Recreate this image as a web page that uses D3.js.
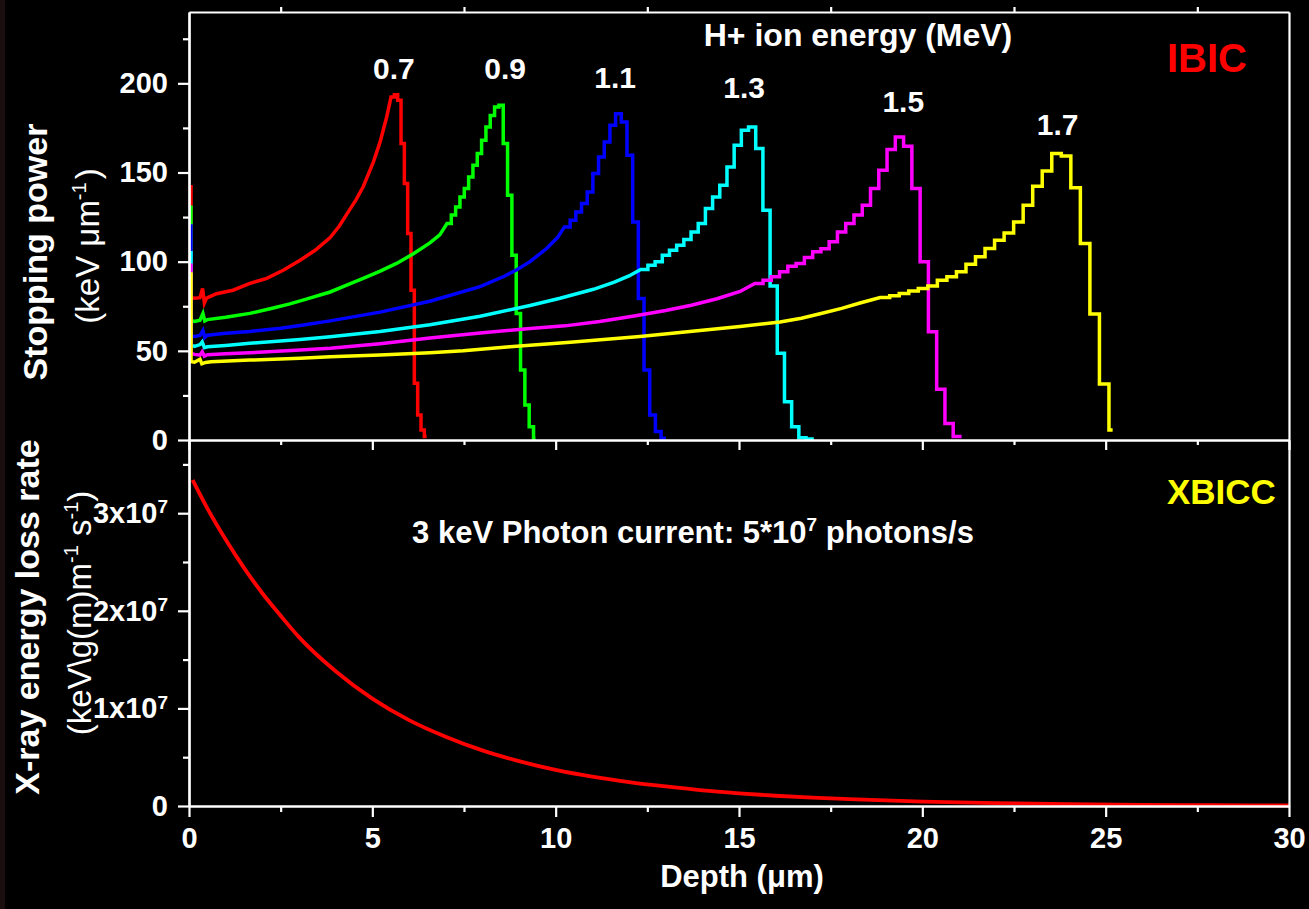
<!DOCTYPE html>
<html><head><meta charset="utf-8">
<script src="https://cdn.jsdelivr.net/npm/d3@7"></script>
<style>html,body{margin:0;padding:0;background:#000;}svg{display:block;}</style>
</head><body>
<svg id="chart" width="1309" height="909"></svg>
<script>
// ---------------- DATA ----------------
const depthTicks = [0, 5, 10, 15, 20, 25, 30];
const depthMinor = [2.5, 7.5, 12.5, 17.5, 22.5, 27.5];
const spTicks = [0, 50, 100, 150, 200];
const spMinor = [25, 75, 125, 175, 225];
const xrayTicks = [0, 1e7, 2e7, 3e7];
const xrayTickLabels = ["0", "1x10^7", "2x10^7", "3x10^7"];
const xrayMinor = [0.5e7, 1.5e7, 2.5e7, 3.5e7];

const ionEnergies = ["0.7", "0.9", "1.1", "1.3", "1.5", "1.7"];
const ionColors = ["#ff0000", "#00ff00", "#0000ff", "#00ffff", "#ff00ff", "#ffff00"];
// label anchor in data coordinates (depth, stopping power)
const labelDepth = [5.59, 8.62, 11.62, 15.14, 19.48, 23.69];
const labelValue = [202.6, 202.6, 197.3, 191.6, 184.1, 171.1];

// slowly varying part of each stopping-power curve: [depth (um), keV/um]
const sp07Smooth = [[0.055,143],[0.055,80],[0.15,79.5],[0.3,79.8],[0.37,85],[0.42,76.8],[0.48,79.6],[0.75,82],[1.2,84],[1.66,87.8],[2.12,90.6],[2.57,95.2],[3.03,100.8],[3.45,106.5],[3.85,113.5],[4.1,120],[4.3,126.5],[4.55,134.5],[4.75,142],[5.03,156],[5.21,167],[5.39,181]];
const sp09Smooth = [[0.055,131.5],[0.055,67],[0.15,66.5],[0.3,67.2],[0.38,71],[0.43,66.8],[0.5,67.5],[1.0,68.8],[1.66,71],[2.3,74],[2.75,76.3],[3.2,79],[3.85,83],[4.3,86.8],[4.75,90.6],[5.2,94.6],[5.66,99],[6.12,104.4],[6.57,110.5],[6.84,115]];
const sp11Smooth = [[0.055,121],[0.055,58.4],[0.15,58],[0.3,58.6],[0.38,61.5],[0.43,57.5],[0.5,58.8],[1.0,59.8],[1.66,60.9],[2.5,62.7],[3.03,64.2],[3.85,66.8],[5.21,71.7],[6.57,77.8],[7.94,86],[8.6,91.8],[8.94,95.5],[9.3,100],[9.76,107.5],[10.05,113.5]];
const sp13Smooth = [[0.055,106],[0.055,53.2],[0.15,52.5],[0.3,53.5],[0.36,55],[0.42,51.8],[0.5,52.3],[1.0,53],[1.66,54.2],[3.03,56.4],[3.85,57.9],[5.21,60.9],[6.57,64.6],[7.94,69.4],[9.3,75.4],[10.12,79.5],[11.03,84.5],[11.6,88.5],[12.0,92]];
const sp15Smooth = [[0.055,99],[0.055,48.6],[0.15,48],[0.3,47.6],[0.36,49.5],[0.42,47],[0.5,47.8],[1.0,48.3],[1.66,48.9],[3.03,50.4],[3.85,51.4],[5.21,54],[6.57,57.2],[7.94,60],[9.3,62.5],[10.25,64],[11.2,66.4],[12.1,69.4],[13.0,72.6],[13.7,75.6],[14.4,79.2],[15.03,83.3]];
const sp17Smooth = [[0.055,94],[0.055,44],[0.15,43.6],[0.3,45.3],[0.35,42.7],[0.45,43.5],[0.6,43.9],[1.66,44.8],[3.03,45.8],[3.85,46.7],[5.21,47.6],[6.57,48.9],[7.48,50],[8.75,52.3],[10.4,54.8],[12.3,58],[13.66,60.8],[15.03,63.6],[16.12,66.2],[16.7,68.3],[17.21,70.8],[17.8,73.8],[18.3,76.8]];

// histogram bins near the Bragg peak (keV/um)
const sp07Bins = [192.3,193.6,190.5,166.2,143.8,115.8,84,31.8,14,5.6,1.9];
const sp09Bins = [121.4,126.1,130.7,136.3,141,147.5,154.1,160.6,168.1,175.5,182,186.7,187.7,166.2,137.3,103.6,71,39.2,19.6,7.5,1];
const sp11Bins = [119.5,123.2,127.9,132.6,139.1,149.4,158.7,167.1,176.5,183,178.3,159.7,122.3,79.4,39.2,14,4.7,1];
const sp13Bins = [95.6,98,99.9,103.6,106.4,109.2,112.4,116.7,121.4,129.8,136.3,142.9,153.1,165.3,173.7,175.5,163.4,128.9,86.3,48.6,21.5,7.5,1.2,0.6];
const sp15Bins = [87.8,89.6,91.5,94.3,97.5,99,102.3,105.5,107.2,111.1,116.7,121.4,126.1,131.7,141,151.3,162.9,169.9,164.7,141,99.9,60.7,28.4,9.3,1.9];
const sp17Bins = [79.9,80.9,82.2,83.5,85,86.3,89.6,91.5,94.3,98.6,102.7,107.4,112.0,116.1,122.3,131.7,142.3,150.9,160.6,159.3,141.4,110.2,70.6,31.4,5.6];
const binStarts = [5.51, 7.036, 10.24, 12.32, 15.43, 18.85];
const binWidths = [0.0908, 0.118, 0.155, 0.196, 0.2255, 0.26];
const rangeEnds = [6.48, 9.45, 13.01, 17.04, 21.07, 25.19];

// X-ray energy loss rate (bottom panel)
const xrayDepth = [0.1,0.5,1,1.5,2,2.5,3,4,5,6,7,8,9,10,11,12,13,14,15,16,17,18,20,22,24,26,28,30];
const xrayRate = [3.34e7,3.05e7,2.73e7,2.44e7,2.18e7,1.95e7,1.73e7,1.38e7,1.10e7,0.88e7,0.71e7,0.57e7,0.46e7,0.37e7,0.30e7,0.245e7,0.20e7,0.16e7,0.13e7,0.105e7,0.085e7,0.07e7,0.045e7,0.03e7,0.02e7,0.012e7,0.008e7,0.005e7];

// ---------------- DRAW ----------------
const FONT = "'Liberation Sans', Arial, Helvetica, sans-serif";
const svg = d3.select("#chart");
svg.append("rect").attr("width", 1309).attr("height", 909).attr("fill", "#000");
svg.append("rect").attr("width", 5).attr("height", 909).attr("fill", "#1b0e0e");

const M = {left: 189, right: 1289, top: 12, mid: 440, bottom: 806};
const x = d3.scaleLinear().domain([0, 30]).range([M.left, M.right]);
const yTop = d3.scaleLinear().domain([0, 240]).range([M.mid, M.top]);
const yBot = d3.scaleLinear().domain([0, 3.75e7]).range([M.bottom, M.mid]);

const smoothParts = [sp07Smooth, sp09Smooth, sp11Smooth, sp13Smooth, sp15Smooth, sp17Smooth];
const binParts = [sp07Bins, sp09Bins, sp11Bins, sp13Bins, sp15Bins, sp17Bins];
function buildPoints(k) {
  const pts = smoothParts[k].slice();
  const bins = binParts[k];
  bins.forEach((v, i) => {
    const x0 = binStarts[k] + i * binWidths[k];
    const x1 = i === bins.length - 1 ? rangeEnds[k] : x0 + binWidths[k];
    pts.push([x0, v], [x1, v]);
  });
  return pts;
}
const lineTop = d3.line().x(d => x(d[0])).y(d => yTop(d[1]));
const curves = svg.append("g");
ionEnergies.forEach((e, k) => {
  curves.append("path").attr("d", lineTop(buildPoints(k)))
    .attr("fill", "none").attr("stroke", ionColors[k]).attr("stroke-width", 3.5)
    .attr("stroke-linejoin", "miter").attr("stroke-miterlimit", 4);
});

const lineBot = d3.line().x((d, i) => x(xrayDepth[i])).y(d => yBot(d)).curve(d3.curveMonotoneX);
svg.append("path").attr("d", lineBot(xrayRate)).attr("fill", "none")
  .attr("stroke", "#ff0000").attr("stroke-width", 3.8);

function styleAxis(g, fs) {
  g.select(".domain").attr("stroke", "#fff").attr("stroke-width", 2.2);
  g.selectAll(".tick line").attr("stroke", "#fff").attr("stroke-width", 2.2);
  g.selectAll(".tick text").attr("fill", "#fff").attr("font-size", fs || 29)
    .attr("font-weight", "bold").attr("font-family", FONT);
}
const ax = svg.append("g");
ax.append("g").attr("transform", `translate(${M.left},0)`)
  .call(d3.axisLeft(yTop).tickValues(spTicks).tickSize(11).tickPadding(10).tickSizeOuter(0)).call(styleAxis);
ax.append("g").attr("transform", `translate(${M.left},0)`)
  .call(d3.axisLeft(yTop).tickValues(spMinor).tickSize(6).tickFormat("").tickSizeOuter(0)).call(styleAxis);
ax.append("g").attr("transform", `translate(0,${M.top})`)
  .call(d3.axisTop(x).tickValues(depthMinor).tickSize(5).tickFormat("").tickSizeOuter(0)).call(styleAxis);
ax.append("g").attr("transform", `translate(0,${M.mid})`)
  .call(d3.axisBottom(x).tickValues(depthTicks).tickSize(10).tickFormat("").tickSizeOuter(0)).call(styleAxis);
ax.append("g").attr("transform", `translate(0,${M.mid})`)
  .call(d3.axisBottom(x).tickValues(depthMinor).tickSize(5).tickFormat("").tickSizeOuter(0)).call(styleAxis);
ax.append("g").attr("transform", `translate(${M.right},0)`)
  .call(d3.axisRight(yTop).tickValues([]).tickSizeOuter(0)).call(styleAxis);
ax.append("g").attr("transform", `translate(${M.right},0)`)
  .call(d3.axisRight(yBot).tickValues([]).tickSizeOuter(0)).call(styleAxis);
const bl = ax.append("g").attr("transform", `translate(${M.left},0)`)
  .call(d3.axisLeft(yBot).tickValues(xrayTicks).tickSize(11).tickPadding(10).tickSizeOuter(0)
    .tickFormat((d, i) => xrayTickLabels[i])).call(styleAxis);
bl.selectAll(".tick text").each(function(d, i) {
  const lab = xrayTickLabels[i];
  if (lab.indexOf("^") < 0) return;
  const [base, exp] = lab.split("^");
  const t = d3.select(this).text(null);
  t.append("tspan").text(base);
  t.append("tspan").attr("dy", "-0.5em").attr("font-size", 19).text(exp);
});
ax.append("g").attr("transform", `translate(${M.left},0)`)
  .call(d3.axisLeft(yBot).tickValues(xrayMinor).tickSize(6).tickFormat("").tickSizeOuter(0)).call(styleAxis);
ax.append("g").attr("transform", `translate(0,${M.bottom})`)
  .call(d3.axisBottom(x).tickValues(depthTicks).tickSize(11).tickPadding(10).tickSizeOuter(0)).call(styleAxis);
ax.append("g").attr("transform", `translate(0,${M.bottom})`)
  .call(d3.axisBottom(x).tickValues(depthMinor).tickSize(6).tickFormat("").tickSizeOuter(0)).call(styleAxis);

const T = svg.append("g").attr("font-family", FONT).attr("fill", "#fff");
ionEnergies.forEach((e, k) => {
  T.append("text").attr("x", x(labelDepth[k])).attr("y", yTop(labelValue[k]))
    .attr("text-anchor", "middle").attr("font-size", 30).attr("font-weight", "bold").text(e);
});
T.append("text").attr("x", 858).attr("y", 46).attr("text-anchor", "middle")
  .attr("font-size", 32).attr("font-weight", "bold").text("H+ ion energy (MeV)");
T.append("text").attr("x", 1167).attr("y", 72).attr("font-size", 40).attr("font-weight", "bold")
  .attr("fill", "#ff0000").text("IBIC");
T.append("text").attr("x", 1167).attr("y", 504).attr("font-size", 35).attr("font-weight", "bold")
  .attr("fill", "#ffff00").text("XBICC");
const ph = T.append("text").attr("x", 693).attr("y", 543).attr("text-anchor", "middle")
  .attr("font-size", 31).attr("font-weight", "bold");
ph.append("tspan").text("3 keV Photon current: 5*10");
ph.append("tspan").attr("dy", -12).attr("font-size", 19).text("7");
ph.append("tspan").attr("dy", 12).text(" photons/s");

T.append("text").attr("x", 742).attr("y", 887).attr("text-anchor", "middle")
  .attr("font-size", 31).attr("font-weight", "bold").text("Depth (\u03bcm)");

T.append("text").attr("transform", "translate(47,252) rotate(-90)").attr("text-anchor", "middle")
  .attr("font-size", 34).attr("font-weight", "bold").text("Stopping power");
const u1 = T.append("text").attr("transform", "translate(99,246) rotate(-90)").attr("text-anchor", "middle")
  .attr("font-size", 33);
u1.append("tspan").text("(keV \u03bcm");
u1.append("tspan").attr("dy", -13).attr("font-size", 20).text("-1");
u1.append("tspan").attr("dy", 13).attr("dx", 3).text(")");

T.append("text").attr("transform", "translate(39,617) rotate(-90)").attr("text-anchor", "middle")
  .attr("font-size", 34).attr("font-weight", "bold").text("X-ray energy loss rate");
const u2 = T.append("text").attr("transform", "translate(91,613) rotate(-90)").attr("text-anchor", "middle")
  .attr("font-size", 33);
u2.append("tspan").text("(keV\\g(m)m");
u2.append("tspan").attr("dy", -13).attr("font-size", 20).text("-1");
u2.append("tspan").attr("dy", 13).text(" s");
u2.append("tspan").attr("dy", -13).attr("font-size", 20).text("-1");
u2.append("tspan").attr("dy", 13).text(")");
</script>
</body></html>
